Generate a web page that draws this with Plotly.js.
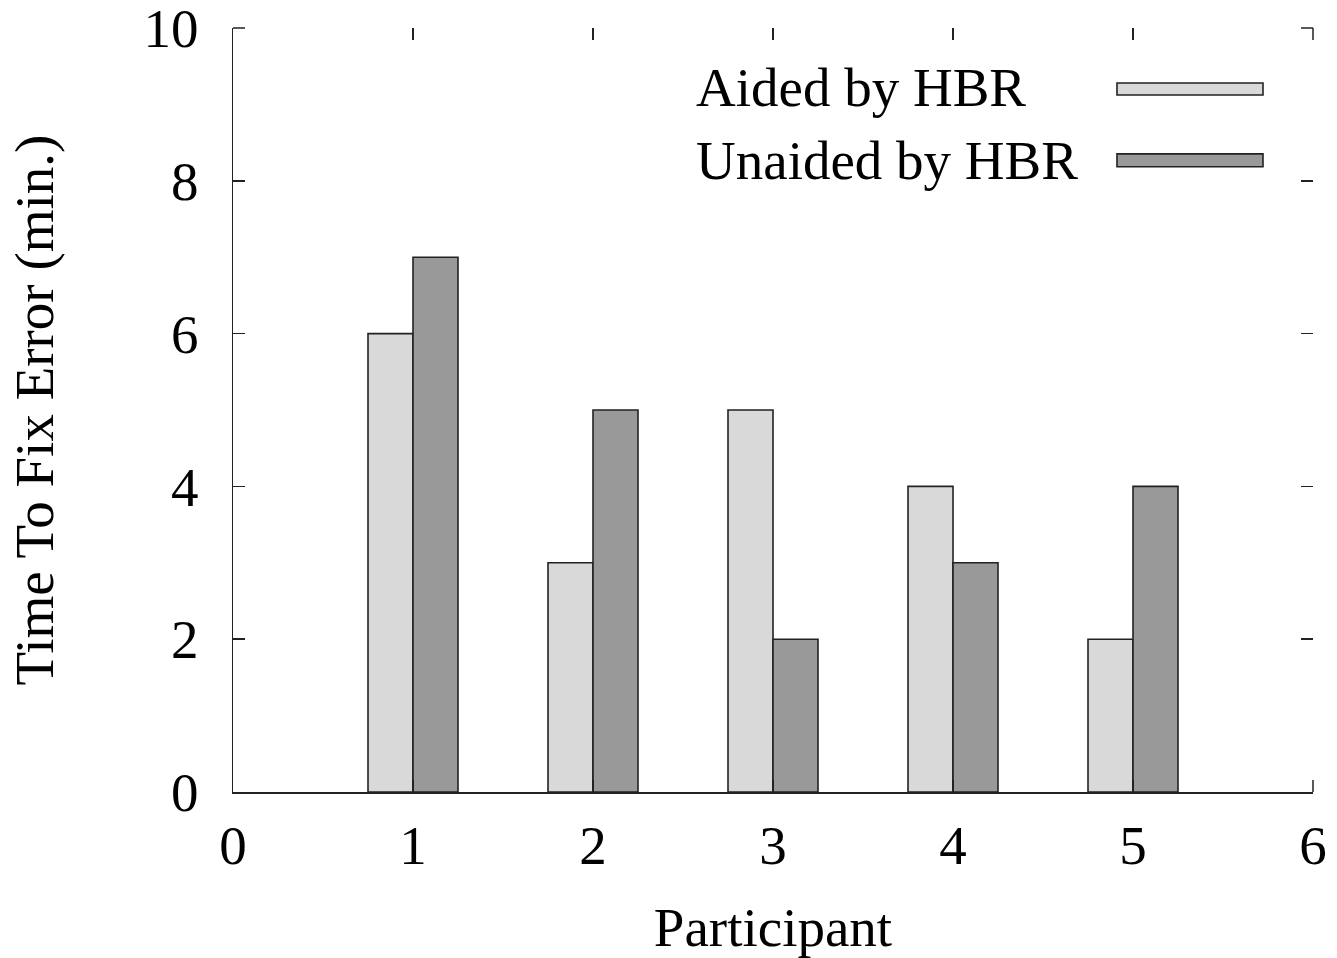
<!DOCTYPE html>
<html>
<head>
<meta charset="utf-8">
<script src="https://cdn.plot.ly/plotly-3.0.1.min.js"></script>
<style>html,body{margin:0;padding:0;background:#fff;}#chart{width:1337px;height:958px;}</style>
</head>
<body>
<div id="chart"></div>
<script>
const participants = [1, 2, 3, 4, 5];
const aided = [6, 3, 5, 4, 2];
const unaided = [7, 5, 2, 3, 4];
const seriesNames = ["Aided by HBR", "Unaided by HBR"];
const xTicks = [0, 1, 2, 3, 4, 5, 6];
const yTicks = [0, 2, 4, 6, 8, 10];

const FONT = "Liberation Serif, Times New Roman, serif";
const lightColor = "#d9d9d9";
const darkColor = "#999999";
const edge = "#222222";

const traces = [
  {type: "bar", x: participants, y: aided, name: seriesNames[0], showlegend: false,
   marker: {color: lightColor, line: {color: edge, width: 1.6}}},
  {type: "bar", x: participants, y: unaided, name: seriesNames[1], showlegend: false,
   marker: {color: darkColor, line: {color: edge, width: 1.6}}}
];

const axisCommon = {
  ticks: "inside", ticklen: 12, tickwidth: 1.5, tickcolor: "#222",
  showgrid: false, zeroline: false, ticklabeloverflow: "allow"
};

// corner tick marks (Plotly drops inside ticks that sit exactly on the plot edges)
const TX = 12 / 1080, TY = 12 / 765;
const tickLine = {color: "#222", width: 1.5};
const cornerTicks = [
  {type: "line", xref: "paper", yref: "paper", x0: 0, x1: TX, y0: 1, y1: 1, line: tickLine},
  {type: "line", xref: "paper", yref: "paper", x0: 1 - TX, x1: 1, y0: 1, y1: 1, line: tickLine},
  {type: "line", xref: "paper", yref: "paper", x0: 1, x1: 1, y0: 1 - TY, y1: 1, line: tickLine},
  {type: "line", xref: "paper", yref: "paper", x0: 1, x1: 1, y0: 0, y1: TY, line: tickLine}
];

const layout = {
  width: 1337, height: 958,
  margin: {l: 233, r: 24, t: 28, b: 166},
  paper_bgcolor: "#fff", plot_bgcolor: "#fff",
  font: {family: FONT, size: 55, color: "#000"},
  barmode: "group", bargap: 0.5, bargroupgap: 0,
  xaxis: Object.assign({}, axisCommon, {
    range: [0, 6], tickvals: xTicks, ticktext: xTicks.map(String),
    showline: true, linecolor: "#222", linewidth: 1.5,
    ticklabelstandoff: 4,
    title: {text: "Participant", font: {family: FONT, size: 55}, standoff: 50}
  }),
  yaxis: Object.assign({}, axisCommon, {
    range: [0, 10], tickvals: yTicks, ticktext: yTicks.map(String),
    showline: true, linecolor: "#222", linewidth: 1.5,
    ticklabelstandoff: 22,
    title: {text: "Time To Fix Error (min.)", font: {family: FONT, size: 55}, standoff: 72}
  }),
  xaxis2: Object.assign({}, axisCommon, {
    overlaying: "x", side: "top", range: [0, 6], tickvals: xTicks,
    showticklabels: false, showline: false
  }),
  yaxis2: Object.assign({}, axisCommon, {
    overlaying: "y", side: "right", range: [0, 10], tickvals: yTicks,
    showticklabels: false, showline: false
  }),
  shapes: [
    {type: "rect", xref: "paper", yref: "paper", x0: 0.8185, x1: 0.9537, y0: 0.9124, y1: 0.9281,
     fillcolor: lightColor, line: {color: edge, width: 1.6}},
    {type: "rect", xref: "paper", yref: "paper", x0: 0.8185, x1: 0.9537, y0: 0.8183, y1: 0.8353,
     fillcolor: darkColor, line: {color: edge, width: 1.6}}
  ].concat(cornerTicks),
  annotations: [
    {xref: "paper", yref: "paper", x: 0.4268, y: 0.9225, xanchor: "left", yanchor: "middle",
     text: seriesNames[0], showarrow: false, font: {family: FONT, size: 55}},
    {xref: "paper", yref: "paper", x: 0.4268, y: 0.826, xanchor: "left", yanchor: "middle",
     text: seriesNames[1], showarrow: false, font: {family: FONT, size: 55}}
  ]
};

traces.push({type: "scatter", x: [], y: [], xaxis: "x2", yaxis: "y2", showlegend: false, hoverinfo: "skip"});

Plotly.newPlot("chart", traces, layout, {displayModeBar: false, staticPlot: true});
</script>
</body>
</html>
